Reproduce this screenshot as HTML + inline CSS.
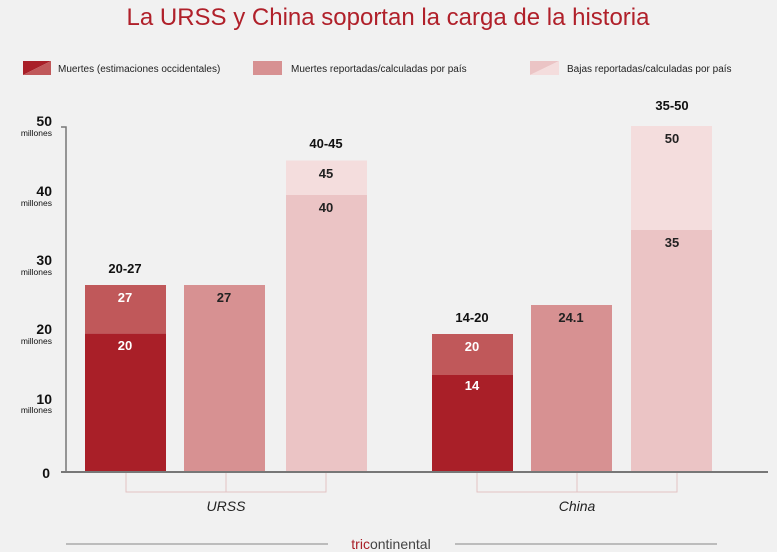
<!DOCTYPE html>
<html><head><meta charset="utf-8"><style>
body{margin:0;background:#f1f1f1;}
svg{display:block;font-family:"Liberation Sans",sans-serif;}
</style></head><body>
<svg width="777" height="552" viewBox="0 0 777 552">
<rect width="777" height="552" fill="#f1f1f1"/>
<text x="388" y="25" text-anchor="middle" font-size="24" fill="#b0202a">La URSS y China soportan la carga de la historia</text>
<polygon points="23,61 51,61 23,75" fill="#a91f28"/><polygon points="51,61 51,75 23,75" fill="#c0585a"/>
<text x="58" y="72" font-size="10" fill="#222">Muertes (estimaciones occidentales)</text>
<rect x="253" y="61" width="29" height="14" fill="#d79192"/>
<text x="291" y="72" font-size="10" fill="#222">Muertes reportadas/calculadas por país</text>
<polygon points="530,61 559,61 530,75" fill="#ebc4c5"/><polygon points="559,61 559,75 530,75" fill="#f4dddd"/>
<text x="567" y="72" font-size="10" fill="#222">Bajas reportadas/calculadas por país</text>
<g font-weight="bold" fill="#111" text-anchor="end">
<text x="52" y="126" font-size="14">50</text><text x="52" y="196" font-size="14">40</text><text x="52" y="265" font-size="14">30</text><text x="52" y="334" font-size="14">20</text><text x="52" y="404" font-size="14">10</text><text x="50" y="478" font-size="14">0</text>
</g>
<g fill="#111" text-anchor="end" font-size="8.5">
<text x="52" y="136">millones</text><text x="52" y="206">millones</text><text x="52" y="275">millones</text><text x="52" y="344">millones</text><text x="52" y="413">millones</text>
</g>
<rect x="85" y="333.6" width="81" height="138.4" fill="#a91f28"/>
<rect x="85" y="285" width="81" height="48.6" fill="#c0585a"/>
<rect x="184" y="285" width="81" height="187" fill="#d79192"/>
<rect x="286" y="195" width="81" height="277" fill="#ebc4c5"/>
<rect x="286" y="160.5" width="81" height="34.5" fill="#f4dddd"/>
<rect x="432" y="375" width="81" height="97" fill="#a91f28"/>
<rect x="432" y="334" width="81" height="41" fill="#c0585a"/>
<rect x="531" y="305" width="81" height="167" fill="#d79192"/>
<rect x="631" y="230" width="81" height="242" fill="#ebc4c5"/>
<rect x="631" y="126" width="81" height="104" fill="#f4dddd"/>
<path d="M61,127 H66 V472" stroke="#777" stroke-width="1.5" fill="none"/>
<line x1="61" y1="472" x2="768" y2="472" stroke="#777" stroke-width="2"/>
<g font-weight="bold" font-size="13" text-anchor="middle">
<text x="125" y="350" fill="#fff">20</text><text x="125" y="302" fill="#fff">27</text>
<text x="224" y="302" fill="#222">27</text>
<text x="326" y="212" fill="#222">40</text><text x="326" y="178" fill="#222">45</text>
<text x="472" y="390" fill="#fff">14</text><text x="472" y="351" fill="#fff">20</text>
<text x="571" y="322" fill="#222">24.1</text>
<text x="672" y="247" fill="#222">35</text><text x="672" y="143" fill="#222">50</text>
<text x="125" y="273" fill="#111">20-27</text><text x="326" y="148" fill="#111">40-45</text>
<text x="472" y="322" fill="#111">14-20</text><text x="672" y="110" fill="#111">35-50</text>
</g>
<g stroke="#e3c3c4" fill="none">
<path d="M126,473 V492 H326 V473 M226,473 V492"/>
<path d="M477,473 V492 H677 V473 M577,473 V492"/>
</g>
<text x="226" y="511" text-anchor="middle" font-size="14" font-style="italic" fill="#222">URSS</text>
<text x="577" y="511" text-anchor="middle" font-size="14" font-style="italic" fill="#222">China</text>
<line x1="66" y1="544" x2="328" y2="544" stroke="#888" stroke-width="1"/>
<line x1="455" y1="544" x2="717" y2="544" stroke="#888" stroke-width="1"/>
<text x="391" y="549" text-anchor="middle" font-size="14" fill="#444"><tspan fill="#a91f28">tric</tspan>ontinental</text>
</svg>
</body></html>
